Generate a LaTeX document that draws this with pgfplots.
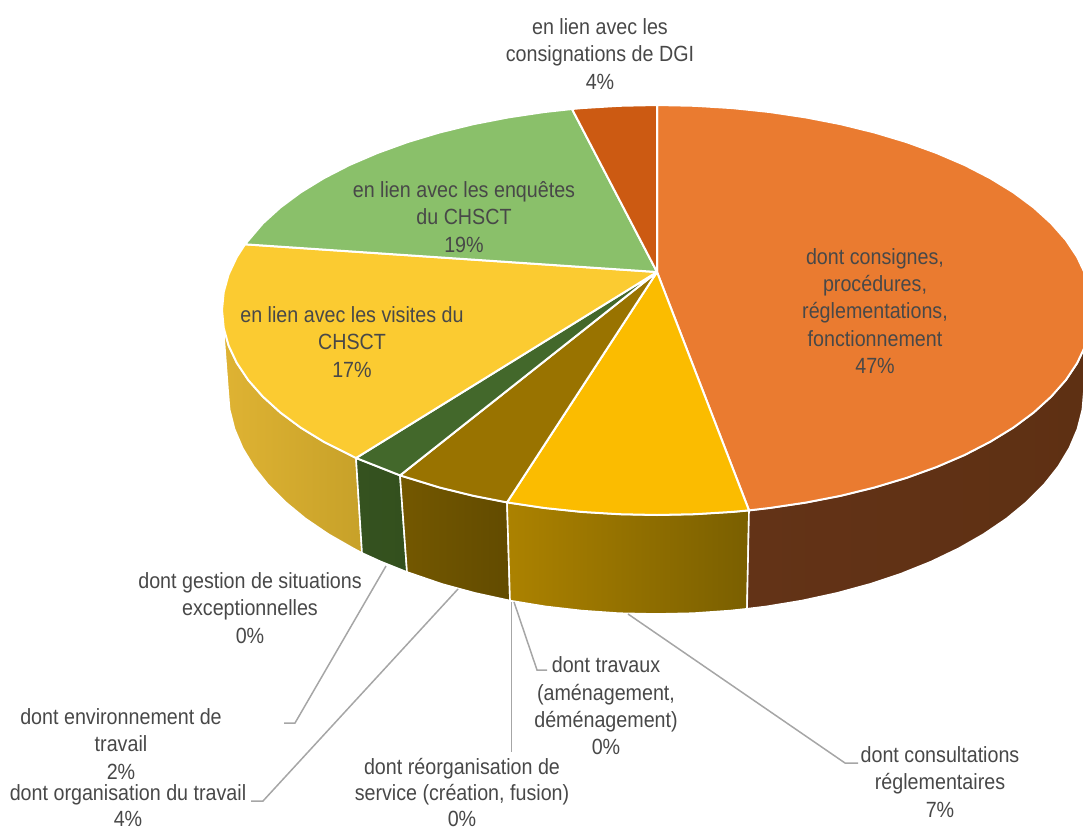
\documentclass[border=0pt]{standalone}
\usepackage{fontspec}
\setmainfont[FakeStretch=0.895]{Liberation Sans}
\usepackage{pgfplots}
\pgfplotsset{compat=1.18}
\definecolor{txt}{HTML}{484848}
\definecolor{lead}{HTML}{A6A6A6}
\definecolor{tOrange}{HTML}{EA7B30}
\definecolor{tYellow}{HTML}{FBBC00}
\definecolor{tBrown}{HTML}{997300}
\definecolor{tDGreen}{HTML}{43682B}
\definecolor{tLYellow}{HTML}{FBCB31}
\definecolor{tGreen}{HTML}{8AC06A}
\definecolor{tDGI}{HTML}{CC5A12}
\definecolor{sLa}{HTML}{DFB333}
\definecolor{sLb}{HTML}{C7A129}
\definecolor{sGa}{HTML}{35521F}
\definecolor{sGb}{HTML}{33501E}
\definecolor{sBa}{HTML}{745800}
\definecolor{sBb}{HTML}{624B00}
\definecolor{sYa}{HTML}{AC8200}
\definecolor{sYb}{HTML}{7A5F00}
\definecolor{sOa}{HTML}{633317}
\definecolor{sOb}{HTML}{5E3013}
\tikzset{
  lab/.style={align=center,inner sep=0pt,text=txt,font=\fontsize{22}{27.3}\selectfont},
  labb/.style={align=center,inner sep=0pt,text=txt,font=\fontsize{22}{26}\selectfont},
}
\pgfplotsset{
  top/.style={fill=#1,draw=white,line width=2pt,line join=round,mark=none},
  sidep/.style 2 args={shade,left color=#1,right color=#2,draw=white,line width=1.6pt,line join=round,mark=none},
  leadl/.style={draw=lead,line width=1.5pt,mark=none},
}
\begin{document}
\begin{tikzpicture}
\path[use as bounding box] (0,0) rectangle (1083pt,830pt);
\begin{axis}[
  at={(0,0)},anchor=south west,
  width=1083pt,height=830pt,scale only axis,
  xmin=0,xmax=1083,ymin=0,ymax=830,y dir=reverse,
  hide axis,clip=true,
]
% side panels
\addplot[sidep={sLa}{sLb}] coordinates {(356,458)(323.8,441.8)(300.6,427.6)(280.3,412.5)(262.8,396.6)(248.2,380.1)(236.8,363)(228.6,345.6)(223.7,327.9)(222,310)(228,390)(229.6,409.5)(234.5,428.9)(242.6,448)(253.8,466.6)(268.1,484.7)(285.4,502)(305.4,518.5)(328.2,534)(353.4,548.4)(362,553)} -- cycle;
\addplot[sidep={sGa}{sGb}] coordinates {(400,475.4)(356,458)(362,553)(380.9,561.6)(407,572)} -- cycle;
\addplot[sidep={sBa}{sBb}] coordinates {(507,502.4)(473.2,495.8)(439.5,487.5)(400,475.4)(407,572)(442,584)(475.1,593)(510,600.6)} -- cycle;
\addplot[sidep={sYa}{sYb}] coordinates {(749,510.4)(732.5,511.9)(694.9,514.2)(657,515)(619.1,514.2)(581.5,511.9)(544.4,508)(507,502.4)(510,600.6)(545.2,606.4)(581.7,610.6)(618.7,613.2)(656,614)(693.3,613.2)(730.3,610.6)(747,608.8)} -- cycle;
\addplot[sidep={sOa}{sOb}] coordinates {(1092,310)(1090.3,327.9)(1085.4,345.6)(1077.2,363)(1065.8,380.1)(1051.2,396.6)(1033.7,412.5)(1013.4,427.6)(990.2,441.8)(964.6,455)(936.6,467)(906.5,477.9)(874.5,487.5)(840.8,495.8)(805.8,502.6)(769.6,508)(749,510.4)(747,608.8)(766.8,606.4)(802.4,600.5)(836.9,593)(870,584)(901.5,573.5)(931.1,561.6)(958.6,548.4)(983.8,534)(1006.6,518.5)(1026.6,502)(1043.9,484.7)(1058.2,466.6)(1069.4,448)(1077.5,428.9)(1082.4,409.5)(1084,390)} -- cycle;
% top slices
\addplot[top=tOrange] coordinates {(657,272)(657,105)(694.9,105.8)(732.5,108.1)(769.6,112)(805.8,117.4)(840.8,124.2)(874.5,132.5)(906.5,142.1)(936.6,153)(964.6,165)(990.2,178.2)(1013.4,192.4)(1033.7,207.5)(1051.2,223.4)(1065.8,239.9)(1077.2,257)(1085.4,274.4)(1090.3,292.1)(1092,310)(1090.3,327.9)(1085.4,345.6)(1077.2,363)(1065.8,380.1)(1051.2,396.6)(1033.7,412.5)(1013.4,427.6)(990.2,441.8)(964.6,455)(936.6,467)(906.5,477.9)(874.5,487.5)(840.8,495.8)(805.8,502.6)(769.6,508)(749,510.4)} -- cycle;
\addplot[top=tYellow] coordinates {(657,272)(749,510.4)(732.5,511.9)(694.9,514.2)(657,515)(619.1,514.2)(581.5,511.9)(544.4,508)(507,502.4)} -- cycle;
\addplot[top=tBrown] coordinates {(657,272)(507,502.4)(473.2,495.8)(439.5,487.5)(400,475.4)} -- cycle;
\addplot[top=tDGreen] coordinates {(657,272)(400,475.4)(356,458)} -- cycle;
\addplot[top=tLYellow] coordinates {(657,272)(356,458)(323.8,441.8)(300.6,427.6)(280.3,412.5)(262.8,396.6)(248.2,380.1)(236.8,363)(228.6,345.6)(223.7,327.9)(222,310)(223.7,292.1)(228.6,274.4)(236.8,257)(245,244.3)} -- cycle;
\addplot[top=tGreen] coordinates {(657,272)(245,244.3)(262.8,223.4)(280.3,207.5)(300.6,192.4)(323.8,178.2)(349.4,165)(377.4,153)(407.5,142.1)(439.5,132.5)(473.2,124.2)(508.2,117.4)(544.4,112)(572,109)} -- cycle;
\addplot[top=tDGI] coordinates {(657,272)(572,109)(581.5,108.1)(619.1,105.8)(657,105)} -- cycle;
% leader lines
\addplot[leadl] coordinates {(628,614)(845,763)(858,763)};
\addplot[leadl] coordinates {(514,602)(537,670)(547,670)};
\addplot[leadl] coordinates {(511.5,602)(511.5,752)};
\addplot[leadl] coordinates {(386,566)(295,723)(284,723)};
\addplot[leadl] coordinates {(458,589)(263,801)(251,801)};
% labels
\node[lab] at (axis cs:600,54) {en lien avec les\\consignations de DGI\\4\%};
\node[lab] at (axis cs:875,311) {dont consignes,\\procédures,\\réglementations,\\fonctionnement\\47\%};
\node[lab] at (axis cs:464,217) {en lien avec les enquêtes\\du CHSCT\\19\%};
\node[lab] at (axis cs:352,342) {en lien avec les visites du\\CHSCT\\17\%};
\node[lab] at (axis cs:250,608) {dont gestion de situations\\exceptionnelles\\0\%};
\node[lab] at (axis cs:121,744) {dont environnement de\\travail\\2\%};
\node[labb] at (axis cs:128,805.5) {dont organisation du travail\\4\%};
\node[labb] at (axis cs:462,792.5) {dont réorganisation de\\service (création, fusion)\\0\%};
\node[lab] at (axis cs:606,706) {dont travaux\\(aménagement,\\déménagement)\\0\%};
\node[lab] at (axis cs:940,782) {dont consultations\\réglementaires\\7\%};
\end{axis}
\end{tikzpicture}
\end{document}
